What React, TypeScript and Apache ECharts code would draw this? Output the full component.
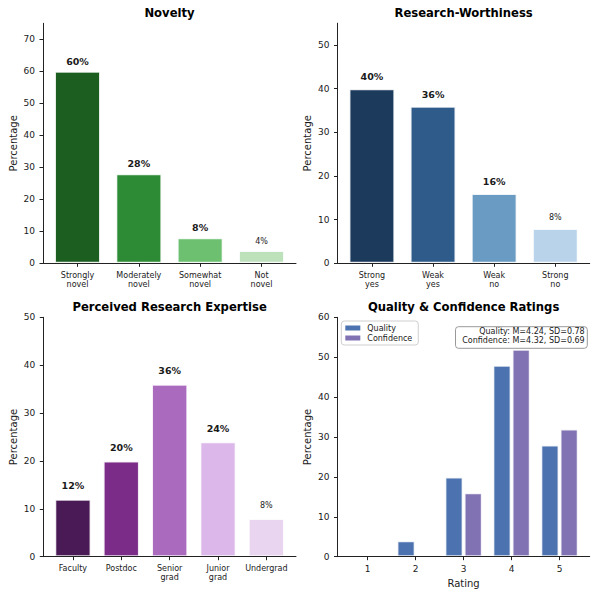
import React, { useEffect, useRef } from "react";
import * as echarts from "echarts";

const NOV_CATS = ["Strongly\nnovel", "Moderately\nnovel", "Somewhat\nnovel", "Not\nnovel"];
const NOV_VALS = [60, 28, 8, 4];
const NOV_TICKS = [0, 10, 20, 30, 40, 50, 60, 70];

const RW_CATS = ["Strong\nyes", "Weak\nyes", "Weak\nno", "Strong\nno"];
const RW_VALS = [40, 36, 16, 8];
const RW_TICKS = [0, 10, 20, 30, 40, 50];

const EXP_CATS = ["Faculty", "Postdoc", "Senior\ngrad", "Junior\ngrad", "Undergrad"];
const EXP_VALS = [12, 20, 36, 24, 8];
const EXP_TICKS = [0, 10, 20, 30, 40, 50];

const RATINGS = [1, 2, 3, 4, 5];
const QUALITY = [0, 4, 20, 48, 28];
const CONFIDENCE = [0, 0, 16, 52, 32];
const QC_TICKS = [0, 10, 20, 30, 40, 50, 60];

const NOV_COLORS = ["#1b5e20", "#2e8b35", "#6cc070", "#bde1bb"];
const RW_COLORS = ["#1c3a5c", "#2e5b8a", "#6a9bc2", "#b9d4ea"];
const EXP_COLORS = ["#4a1a56", "#7b2b88", "#aa6abe", "#dcb8ea", "#e9d5f0"];
const Q_COLOR = "#4c72b0";
const C_COLOR = "#8172b3";

const FONT = '"DejaVu Sans", Verdana, sans-serif';
const INK = "#1a1a1a";
const SPINE = "#222";

const GRIDS = [
  { left: 43, top: 23.3, width: 253, height: 240 },
  { left: 337.5, top: 23.2, width: 252.2, height: 240.1 },
  { left: 43.3, top: 317.3, width: 252.7, height: 239.4 },
  { left: 337.5, top: 317.3, width: 252.2, height: 239.4 },
];

function yAxisFor(idx: number, max: number, ticks: number[]) {
  return {
    type: "value",
    gridIndex: idx,
    min: 0,
    max,
    z: 5,
    name: "Percentage",
    nameLocation: "middle",
    nameGap: 25,
    nameTextStyle: { fontFamily: FONT, fontSize: 10, color: INK },
    axisLine: { show: true, onZero: false, lineStyle: { color: SPINE, width: 1 } },
    axisTick: { show: true, length: 3.5, customValues: ticks, lineStyle: { color: SPINE } },
    axisLabel: { customValues: ticks, margin: 8, fontFamily: FONT, fontSize: 9, color: INK },
    splitLine: { show: false },
  };
}

function xAxisFor(idx: number, min: number, max: number, positions: number[], labels: string[], fontSize: number) {
  return {
    type: "value",
    gridIndex: idx,
    min,
    max,
    z: 5,
    axisLine: { show: true, onZero: false, lineStyle: { color: SPINE, width: 1 } },
    axisTick: { show: true, length: 3.5, customValues: positions, lineStyle: { color: SPINE } },
    axisLabel: {
      customValues: positions,
      formatter: (v: number) => {
        const k = positions.findIndex((p) => Math.abs(p - v) < 1e-6);
        return k >= 0 ? labels[k] : "";
      },
      margin: 7,
      fontFamily: FONT,
      fontSize,
      lineHeight: fontSize === 8 ? 9.5 : 11,
      color: INK,
    },
    splitLine: { show: false },
  };
}

const BAR_W = 0.75;

function barPanel(idx: number, cats: string[], vals: number[], colors: string[], labelDist: number) {
  const n = vals.length;
  const span = n - 1 + BAR_W;
  const xmin = -BAR_W / 2 - 0.05 * span;
  const xmax = n - 1 + BAR_W / 2 + 0.05 * span;
  const ppu = GRIDS[idx].width / (xmax - xmin);
  const positions = cats.map((_, i) => i);
  const series = {
    type: "bar",
    xAxisIndex: idx,
    yAxisIndex: idx,
    barWidth: BAR_W * ppu,
    z: 2,
    itemStyle: { borderColor: "rgba(255,255,255,0.85)", borderWidth: 1.5 },
    label: {
      show: true,
      position: "top",
      distance: labelDist,
      formatter: (p: any) => p.value[1] + "%",
      fontFamily: FONT,
      fontWeight: "bold",
      fontSize: 9.5,
      color: INK,
    },
    data: vals.map((v, i) => ({
      value: [i, v],
      itemStyle: { color: colors[i] },
      label: i === n - 1 ? { fontWeight: "normal", fontSize: 8 } : undefined,
    })),
  };
  return { xAxis: xAxisFor(idx, xmin, xmax, positions, cats, 8), series };
}

export default function App() {
  const ref = useRef<HTMLDivElement>(null);
  useEffect(() => {
    if (!ref.current) return;
    const chart = echarts.init(ref.current, null, { renderer: "svg" });

    const p1 = barPanel(0, NOV_CATS, NOV_VALS, NOV_COLORS, 5);
    const p2 = barPanel(1, RW_CATS, RW_VALS, RW_COLORS, 7);
    const p3 = barPanel(2, EXP_CATS, EXP_VALS, EXP_COLORS, 8.5);

    // Panel 4 grouped bars
    const qw = 0.38;
    const off = 0.2;
    const lo = RATINGS[0] - off - qw / 2;
    const hi = RATINGS[RATINGS.length - 1] + off + qw / 2;
    const m = 0.05 * (hi - lo);
    const xmin4 = lo - m;
    const xmax4 = hi + m;
    const ppu4 = GRIDS[3].width / (xmax4 - xmin4);
    const bw4 = qw * ppu4;
    const gapPct = (((2 * off) * ppu4 - bw4) / bw4) * 100;
    const x4 = xAxisFor(3, xmin4, xmax4, RATINGS, RATINGS.map(String), 9);
    (x4 as any).name = "Rating";
    (x4 as any).nameLocation = "middle";
    (x4 as any).nameGap = 21.5;
    (x4 as any).nameTextStyle = { fontFamily: FONT, fontSize: 10, color: INK };

    const barCommon = {
      type: "bar",
      xAxisIndex: 3,
      yAxisIndex: 3,
      barWidth: bw4,
      barGap: gapPct + "%",
      z: 2,
    };

    const option: any = {
      animation: false,
      backgroundColor: "#fff",
      grid: GRIDS.map((g) => ({ ...g, outerBoundsMode: "none", containLabel: false })),
      xAxis: [p1.xAxis, p2.xAxis, p3.xAxis, x4],
      yAxis: [
        yAxisFor(0, 75, NOV_TICKS),
        yAxisFor(1, 55, RW_TICKS),
        yAxisFor(2, 50, EXP_TICKS),
        yAxisFor(3, 60, QC_TICKS),
      ],
      legend: {
        show: true,
        data: ["Quality", "Confidence"],
        orient: "vertical",
        left: 341.3,
        top: 321,
        icon: "rect",
        itemWidth: 15,
        itemHeight: 5,
        itemGap: 2,
        padding: [3, 6, 3, 4],
        backgroundColor: "#fff",
        borderColor: "#cfcfcf",
        borderWidth: 1,
        borderRadius: 3,
        itemStyle: { borderWidth: 0 },
        textStyle: { fontFamily: FONT, fontSize: 8, color: INK, padding: [0, 0, 0, 2] },
        z: 20,
      },
      series: [
        p1.series,
        p2.series,
        p3.series,
        {
          ...barCommon,
          name: "Quality",
          itemStyle: { color: Q_COLOR, borderColor: "rgba(255,255,255,0.85)", borderWidth: 1.5 },
          data: RATINGS.map((r, i) => [r, QUALITY[i]]),
        },
        {
          ...barCommon,
          name: "Confidence",
          itemStyle: { color: C_COLOR, borderColor: "rgba(255,255,255,0.85)", borderWidth: 1.5 },
          data: RATINGS.map((r, i) => [r, CONFIDENCE[i]]),
        },
      ],
      graphic: [
        {
          type: "text",
          x: 169.5,
          y: 13.3,
          z: 100,
          style: { text: "Novelty", font: `bold 11.6px ${FONT}`, fill: "#000", align: "center", verticalAlign: "middle" },
        },
        {
          type: "text",
          x: 463.6,
          y: 13.3,
          z: 100,
          style: { text: "Research-Worthiness", font: `bold 11.6px ${FONT}`, fill: "#000", align: "center", verticalAlign: "middle" },
        },
        {
          type: "text",
          x: 169.6,
          y: 306.7,
          z: 100,
          style: { text: "Perceived Research Expertise", font: `bold 11.6px ${FONT}`, fill: "#000", align: "center", verticalAlign: "middle" },
        },
        {
          type: "text",
          x: 463.6,
          y: 306.7,
          z: 100,
          style: { text: "Quality & Confidence Ratings", font: `bold 11.6px ${FONT}`, fill: "#000", align: "center", verticalAlign: "middle" },
        },
        {
          type: "rect",
          z: 100,
          shape: { x: 455.5, y: 326.7, width: 131.8, height: 21.6, r: 3 },
          style: { fill: "#fff", stroke: "#999", lineWidth: 1 },
        },
        {
          type: "text",
          x: 584.7,
          y: 336,
          z: 101,
          style: {
            text: "Quality: M=4.24, SD=0.78\nConfidence: M=4.32, SD=0.69",
            font: `8px ${FONT}`,
            fill: INK,
            align: "right",
            verticalAlign: "middle",
            lineHeight: 8.4,
          },
        },
      ],
    };
    chart.setOption(option);
    return () => chart.dispose();
  }, []);
  return (
    <div
      ref={ref}
      style={{ position: "fixed", left: 0, top: 0, width: 598, height: 598, background: "#fff" }}
    />
  );
}
